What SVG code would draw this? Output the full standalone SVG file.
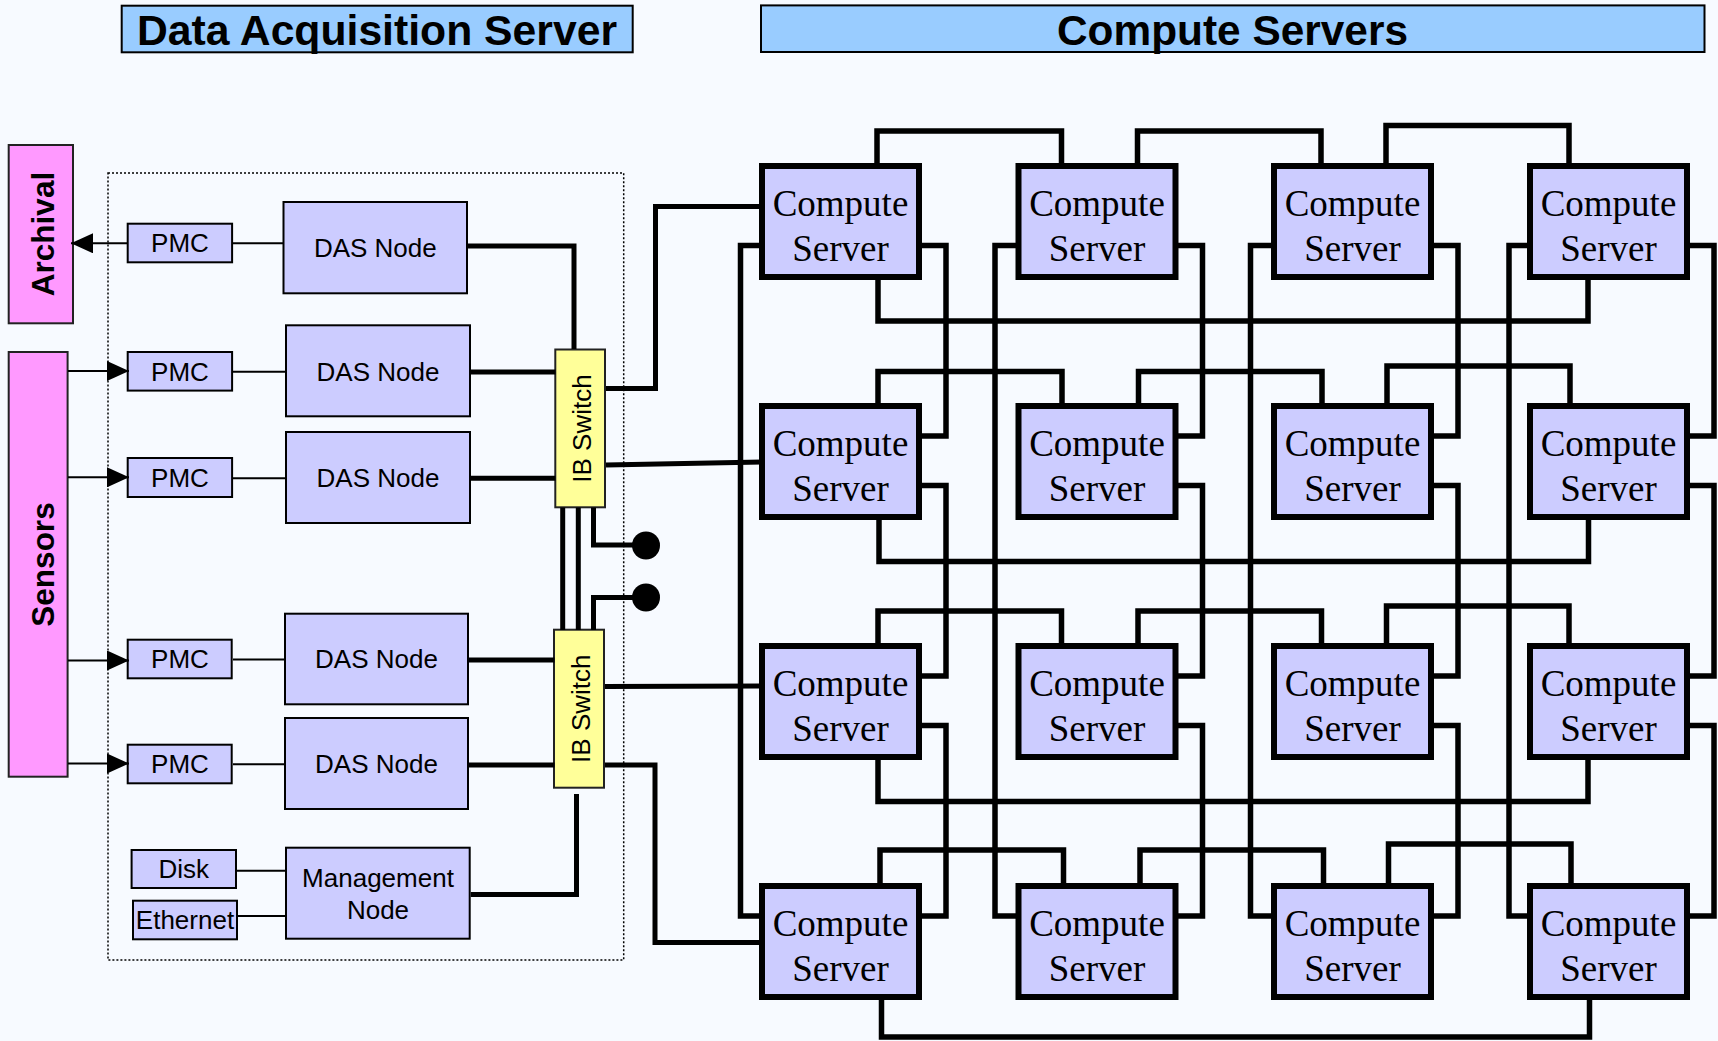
<svg xmlns="http://www.w3.org/2000/svg" width="1718" height="1041" viewBox="0 0 1718 1041">
<defs>
<style>
.bg{fill:#F7FAFF}
.title{fill:#99CCFF;stroke:#000;stroke-width:2}
.tt{font-family:"Liberation Sans",Arial,sans-serif;font-weight:bold;font-size:42px;fill:#000;text-anchor:middle}
.side{fill:#FF99FF;stroke:#222;stroke-width:2}
.st{font-family:"Liberation Sans",Arial,sans-serif;font-weight:bold;font-size:31.5px;fill:#000;text-anchor:middle}
.box{fill:#CCCCFF;stroke:#000;stroke-width:2}
.lbl{font-family:"Liberation Sans",Arial,sans-serif;font-size:26px;fill:#000;text-anchor:middle}
.ib{fill:#FFFF99;stroke:#222;stroke-width:2}
.cs{fill:#CCCCFF;stroke:#000;stroke-width:6}
.cst{font-family:"Liberation Serif","Times New Roman",serif;font-size:37px;fill:#000;text-anchor:middle}
.dot{fill:none;stroke:#000;stroke-width:1.5;stroke-dasharray:2,2}
.thin{fill:none;stroke:#000;stroke-width:2}
.thick{fill:none;stroke:#000;stroke-width:5}
.grid{fill:none;stroke:#000;stroke-width:5.5}
</style>
<marker id="arr" markerUnits="userSpaceOnUse" viewBox="0 0 22 20" markerWidth="22" markerHeight="20" refX="22" refY="10" orient="auto">
<path d="M0,0 L22,10 L0,20 z" fill="#000"/>
</marker>
</defs>
<rect class="bg" x="0" y="0" width="1718" height="1041"/>

<g id="title-das"><rect class="title" x="121.7" y="5.7" width="511" height="46.6"/><text class="tt" x="377" y="45" textLength="480" lengthAdjust="spacingAndGlyphs">Data Acquisition Server</text></g>
<g id="title-compute"><rect class="title" x="761" y="5.4" width="943.5" height="46.6"/><text class="tt" x="1232.5" y="45" textLength="351" lengthAdjust="spacingAndGlyphs">Compute Servers</text></g>

<rect id="das-container" class="dot" x="108" y="173" width="515.7" height="787"/>

<g id="archival"><rect class="side" x="8.7" y="145" width="64.3" height="178.3"/><text class="st" transform="translate(53.5,234) rotate(-90)">Archival</text></g>
<g id="sensors"><rect class="side" x="8.7" y="352" width="58.9" height="424.7"/><text class="st" transform="translate(53.5,564.5) rotate(-90)">Sensors</text></g>

<g id="pmc1"><rect class="box" x="127.7" y="223.7" width="104.4" height="38.6"/><text class="lbl" x="180" y="252.3">PMC</text></g>
<g id="pmc2"><rect class="box" x="127.7" y="352" width="104.4" height="38.6"/><text class="lbl" x="180" y="380.5">PMC</text></g>
<g id="pmc3"><rect class="box" x="127.7" y="458" width="104.4" height="39"/><text class="lbl" x="180" y="487">PMC</text></g>
<g id="pmc4"><rect class="box" x="127.7" y="639.7" width="104" height="38.6"/><text class="lbl" x="180" y="668.3">PMC</text></g>
<g id="pmc5"><rect class="box" x="127.7" y="744.7" width="104" height="38.6"/><text class="lbl" x="180" y="773.3">PMC</text></g>

<g id="das1"><rect class="box" x="283.5" y="202" width="183.5" height="91.3"/><text class="lbl" x="375.3" y="257">DAS Node</text></g>
<g id="das2"><rect class="box" x="286" y="325.3" width="184" height="91"/><text class="lbl" x="378" y="380.5">DAS Node</text></g>
<g id="das3"><rect class="box" x="286" y="432" width="184" height="91"/><text class="lbl" x="378" y="487">DAS Node</text></g>
<g id="das4"><rect class="box" x="285" y="613.7" width="183" height="90.6"/><text class="lbl" x="376.5" y="668.3">DAS Node</text></g>
<g id="das5"><rect class="box" x="285" y="718" width="183" height="91"/><text class="lbl" x="376.5" y="772.8">DAS Node</text></g>
<g id="mgmt"><rect class="box" x="286" y="847.7" width="183.7" height="91"/><text class="lbl" x="378" y="887">Management</text><text class="lbl" x="378" y="919">Node</text></g>
<g id="disk"><rect class="box" x="131.6" y="850" width="104.4" height="38"/><text class="lbl" x="183.8" y="878.3">Disk</text></g>
<g id="ethernet"><rect class="box" x="133" y="900.7" width="104" height="38.6"/><text class="lbl" x="185" y="929.3">Ethernet</text></g>

<g id="ib1"><rect class="ib" x="555.3" y="349.5" width="49.7" height="157.8"/><text class="lbl" transform="translate(590.5,428.5) rotate(-90)">IB Switch</text></g>
<g id="ib2"><rect class="ib" x="554" y="629.7" width="50" height="158"/><text class="lbl" transform="translate(589.5,708.7) rotate(-90)">IB Switch</text></g>

<g id="cs-0-0"><rect class="cs" x="762" y="166" width="157" height="111"/><text class="cst" x="840.5" y="216">Compute</text><text class="cst" x="840.5" y="260.5">Server</text></g>
<g id="cs-0-1"><rect class="cs" x="1018.5" y="166" width="157" height="111"/><text class="cst" x="1097" y="216">Compute</text><text class="cst" x="1097" y="260.5">Server</text></g>
<g id="cs-0-2"><rect class="cs" x="1274" y="166" width="157" height="111"/><text class="cst" x="1352.5" y="216">Compute</text><text class="cst" x="1352.5" y="260.5">Server</text></g>
<g id="cs-0-3"><rect class="cs" x="1530" y="166" width="157" height="111"/><text class="cst" x="1608.5" y="216">Compute</text><text class="cst" x="1608.5" y="260.5">Server</text></g>
<g id="cs-1-0"><rect class="cs" x="762" y="406" width="157" height="111"/><text class="cst" x="840.5" y="456">Compute</text><text class="cst" x="840.5" y="500.5">Server</text></g>
<g id="cs-1-1"><rect class="cs" x="1018.5" y="406" width="157" height="111"/><text class="cst" x="1097" y="456">Compute</text><text class="cst" x="1097" y="500.5">Server</text></g>
<g id="cs-1-2"><rect class="cs" x="1274" y="406" width="157" height="111"/><text class="cst" x="1352.5" y="456">Compute</text><text class="cst" x="1352.5" y="500.5">Server</text></g>
<g id="cs-1-3"><rect class="cs" x="1530" y="406" width="157" height="111"/><text class="cst" x="1608.5" y="456">Compute</text><text class="cst" x="1608.5" y="500.5">Server</text></g>
<g id="cs-2-0"><rect class="cs" x="762" y="646" width="157" height="111"/><text class="cst" x="840.5" y="696">Compute</text><text class="cst" x="840.5" y="740.5">Server</text></g>
<g id="cs-2-1"><rect class="cs" x="1018.5" y="646" width="157" height="111"/><text class="cst" x="1097" y="696">Compute</text><text class="cst" x="1097" y="740.5">Server</text></g>
<g id="cs-2-2"><rect class="cs" x="1274" y="646" width="157" height="111"/><text class="cst" x="1352.5" y="696">Compute</text><text class="cst" x="1352.5" y="740.5">Server</text></g>
<g id="cs-2-3"><rect class="cs" x="1530" y="646" width="157" height="111"/><text class="cst" x="1608.5" y="696">Compute</text><text class="cst" x="1608.5" y="740.5">Server</text></g>
<g id="cs-3-0"><rect class="cs" x="762" y="886" width="157" height="111"/><text class="cst" x="840.5" y="936">Compute</text><text class="cst" x="840.5" y="980.5">Server</text></g>
<g id="cs-3-1"><rect class="cs" x="1018.5" y="886" width="157" height="111"/><text class="cst" x="1097" y="936">Compute</text><text class="cst" x="1097" y="980.5">Server</text></g>
<g id="cs-3-2"><rect class="cs" x="1274" y="886" width="157" height="111"/><text class="cst" x="1352.5" y="936">Compute</text><text class="cst" x="1352.5" y="980.5">Server</text></g>
<g id="cs-3-3"><rect class="cs" x="1530" y="886" width="157" height="111"/><text class="cst" x="1608.5" y="936">Compute</text><text class="cst" x="1608.5" y="980.5">Server</text></g>

<g id="connectors">
<g class="thin">
<path d="M127,243.3 H71" marker-end="url(#arr)"/>
<path d="M68,371 H129" marker-end="url(#arr)"/>
<path d="M68,477.3 H129" marker-end="url(#arr)"/>
<path d="M68,660.5 H129" marker-end="url(#arr)"/>
<path d="M68,763.5 H129" marker-end="url(#arr)"/>
<path d="M233,243.3 H283.5"/>
<path d="M233,371.7 H286"/>
<path d="M233,478.3 H286"/>
<path d="M233,659.5 H285"/>
<path d="M233,764.3 H285"/>
<path d="M237,870.7 H286"/>
<path d="M238,916 H286"/>
</g>
<g class="thick">
<path d="M468,246 H574 V349"/>
<path d="M471,372 H555.5"/>
<path d="M471,478.3 H555.5"/>
<path d="M469,660 H554.5"/>
<path d="M469,765 H554.5"/>
<path d="M470.7,894.5 H576.5 V794"/>
<path d="M562.7,507.5 V630"/>
<path d="M578.3,507.5 V630"/>
<path d="M593.5,507.5 V545 H646"/>
<path d="M646,597.5 H593.5 V630"/>
<path d="M606,388.5 H655.5 V206.5 H762"/>
<path d="M606,465 L762,462"/>
<path d="M605,686.5 L762,686"/>
<path d="M605,765 H655 V942.5 H762"/>
</g>
<circle cx="646" cy="545.5" r="14" fill="#000"/>
<circle cx="646" cy="597.5" r="14" fill="#000"/>
<g class="grid">
<path d="M919,245.5 H946 V436 H919"/>
<path d="M919,485.5 H946 V676 H919"/>
<path d="M919,725.5 H946 V916 H919"/>
<path d="M1175.5,245.5 H1202.5 V436 H1175.5"/>
<path d="M1175.5,485.5 H1202.5 V676 H1175.5"/>
<path d="M1175.5,725.5 H1202.5 V916 H1175.5"/>
<path d="M1431,245.5 H1458 V436 H1431"/>
<path d="M1431,485.5 H1458 V676 H1431"/>
<path d="M1431,725.5 H1458 V916 H1431"/>
<path d="M1687,245.5 H1714 V436 H1687"/>
<path d="M1687,485.5 H1714 V676 H1687"/>
<path d="M1687,725.5 H1714 V916 H1687"/>
<path d="M762,245.5 H740.5 V916 H762"/>
<path d="M1018.5,245.5 H995 V916 H1018.5"/>
<path d="M1274,245.5 H1250.5 V916 H1274"/>
<path d="M1530,245.5 H1509 V916 H1530"/>
<path d="M877,166 V131 H1061.5 V166"/>
<path d="M1137.5,166 V131 H1321 V166"/>
<path d="M1386,166 V125.5 H1569 V166"/>
<path d="M878,406 V371.5 H1062 V406"/>
<path d="M1138.5,406 V371.5 H1322 V406"/>
<path d="M1387,406 V366 H1570 V406"/>
<path d="M878,646 V611 H1061.5 V646"/>
<path d="M1138,646 V611 H1321.5 V646"/>
<path d="M1386.5,646 V606 H1569 V646"/>
<path d="M880,886 V850 H1063.5 V886"/>
<path d="M1140,886 V850 H1323.5 V886"/>
<path d="M1388.5,886 V844 H1571 V886"/>
<path d="M878,277 V321 H1588 V277"/>
<path d="M879,517 V561.5 H1588.5 V517"/>
<path d="M878,757 V801.5 H1588 V757"/>
<path d="M881.5,997 V1037 H1589.5 V997"/>
</g>
</g>
</svg>
